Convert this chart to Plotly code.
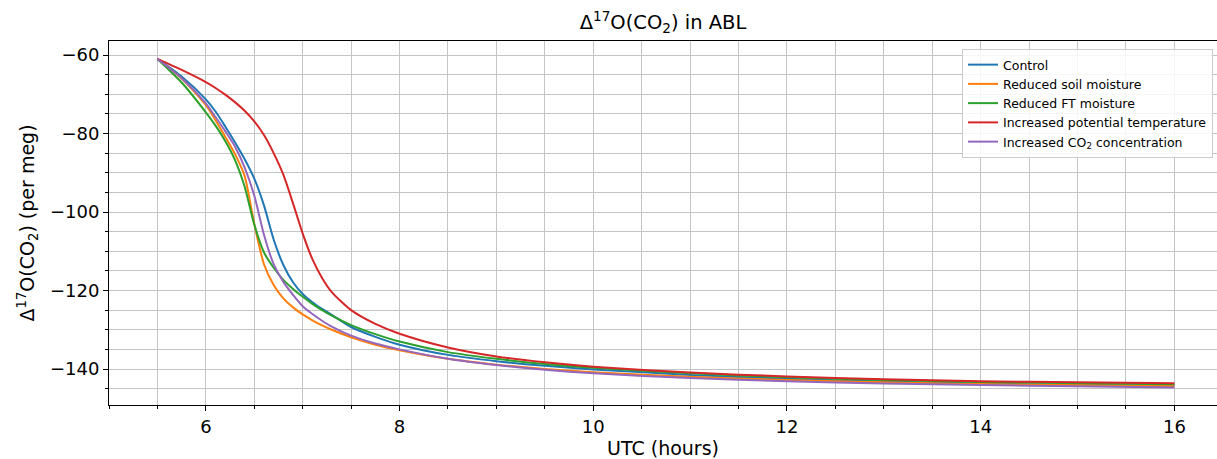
import plotly.graph_objects as go

# Δ17O(CO2) in the atmospheric boundary layer for each model experiment
hours = [5.5, 5.75, 6.0, 6.1, 6.2, 6.3, 6.4, 6.5, 6.6, 6.7, 6.8, 6.9, 7.0, 7.1, 7.2, 7.3,
         7.5, 7.75, 8.0, 8.5, 9.0, 9.5, 10.0, 11.0, 12.0, 13.0, 14.0, 15.0, 16.0]

control_vals = [-61, -65.5, -71.3, -74.4, -78.2, -82.2, -86.5, -91.5, -98.3, -107.0, -113.5, -117.9,
                -120.9, -123.0, -124.7, -126.2, -129.3, -131.8, -133.8, -136.4, -138.0, -139.2,
                -140.1, -141.5, -142.5, -143.2, -143.7, -144.0, -144.3]

soil_vals = [-61, -66.0, -72.8, -76.6, -80.8, -85.2, -90.8, -103.0, -113.3, -118.6, -122.0, -124.3,
             -126.1, -127.6, -128.9, -130.0, -131.9, -133.8, -135.2, -137.4, -138.9, -140.0,
             -140.8, -142.0, -142.8, -143.4, -143.8, -144.1, -144.3]

ft_vals = [-61, -67.0, -74.6, -78.0, -81.9, -86.7, -93.5, -103.2, -110.3, -114.2, -117.3, -119.6,
           -121.6, -123.4, -125.0, -126.4, -128.8, -131.1, -133.0, -135.7, -137.4, -138.7,
           -139.7, -141.1, -142.1, -142.8, -143.3, -143.6, -143.9]

theta_vals = [-61, -63.8, -66.9, -68.4, -70.1, -72.0, -74.2, -76.9, -80.4, -85.0, -90.5, -97.8,
              -105.5, -112.0, -116.8, -120.4, -125.0, -128.5, -131.0, -134.5, -136.8, -138.3,
              -139.4, -140.9, -141.9, -142.6, -143.1, -143.4, -143.6]

co2_vals = [-61, -65.9, -72.3, -75.8, -79.4, -83.3, -88.6, -95.8, -105.8, -113.3, -117.8, -121.1,
            -124.0, -126.0, -127.7, -129.2, -131.5, -133.5, -135.0, -137.4, -139.0, -140.2,
            -141.1, -142.3, -143.1, -143.7, -144.1, -144.4, -144.7]

series = [
    ("Control", control_vals, "#1f77b4"),
    ("Reduced soil moisture", soil_vals, "#ff7f0e"),
    ("Reduced FT moisture", ft_vals, "#2ca02c"),
    ("Increased potential temperature", theta_vals, "#d62728"),
    ("Increased CO<sub>2</sub> concentration", co2_vals, "#9467bd"),
]

FONT = "DejaVu Sans"
GRID = "#c4c4c4"

fig = go.Figure()
for name, vals, color in series:
    fig.add_trace(go.Scatter(
        x=hours, y=vals, name=name, mode="lines",
        line=dict(color=color, width=2, shape="spline", smoothing=0.7),
    ))

fig.update_layout(
    width=1217, height=459,
    margin=dict(l=109, r=0, t=41, b=54),
    paper_bgcolor="white", plot_bgcolor="white",
    font=dict(family=FONT, color="black"),
    title=dict(text="Δ<sup>17</sup>O(CO<sub>2</sub>) in ABL", x=0.5, xref="paper",
               xanchor="center", y=0.952, yanchor="middle", font=dict(size=19.5)),
    legend=dict(x=0.9964, xanchor="right", y=0.978, yanchor="top",
                bgcolor="rgba(255,255,255,0.85)", bordercolor="#cccccc", borderwidth=1,
                font=dict(size=12.5), itemwidth=30),
    showlegend=True,
)

fig.update_xaxes(
    range=[5.0, 16.44], tick0=0, dtick=2,
    showline=True, linecolor="black", linewidth=1, mirror=True,
    ticks="outside", ticklen=5, tickcolor="black",
    showgrid=True, gridcolor=GRID, gridwidth=1.3, zeroline=False,
    tickfont=dict(size=18),
    minor=dict(dtick=0.5, tick0=0, ticks="outside", ticklen=3, tickcolor="black",
               showgrid=True, gridcolor=GRID, gridwidth=1.3),
    title=dict(text="UTC (hours)", font=dict(size=19), standoff=6),
)
fig.update_yaxes(
    range=[-149.17, -56.43], tick0=-60, dtick=20,
    showline=True, linecolor="black", linewidth=1,
    ticks="outside", ticklen=5, tickcolor="black",
    showgrid=True, gridcolor=GRID, gridwidth=1.3, zeroline=False,
    tickfont=dict(size=18),
    minor=dict(dtick=5, tick0=-60, ticks="outside", ticklen=3, tickcolor="black",
               showgrid=True, gridcolor=GRID, gridwidth=1.3),
    title=dict(text="Δ<sup>17</sup>O(CO<sub>2</sub>) (per meg)", font=dict(size=19), standoff=10),
)

fig.write_html("out.html")
